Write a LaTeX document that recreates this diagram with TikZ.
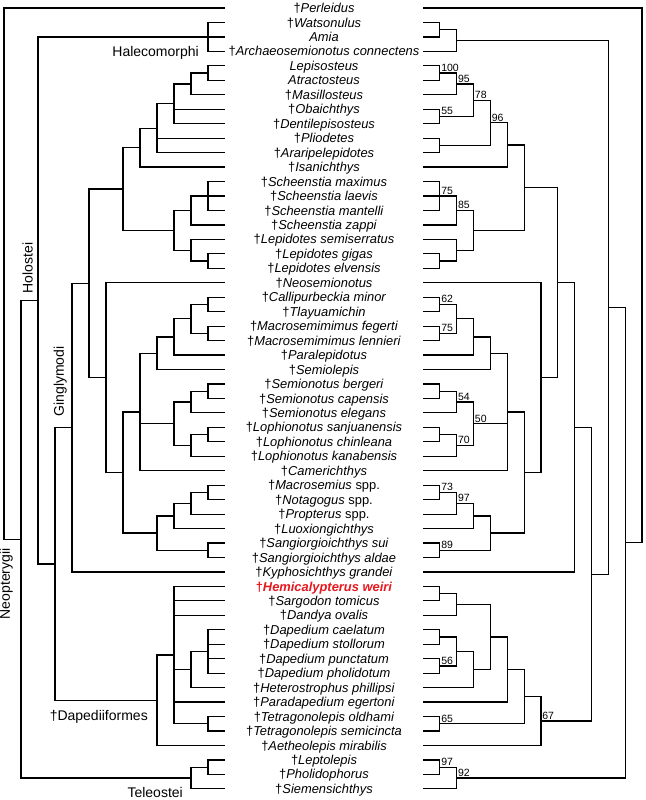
\documentclass[tikz,border=0pt]{standalone}
\usepackage{fontspec}
\setmainfont{Liberation Sans}
\usetikzlibrary{positioning}
\definecolor{hemired}{RGB}{232,24,32}
\newcommand{\ext}[1]{\textup{†}\textit{#1}}
\tikzset{
branch/.style={
	draw=black,
	line width=1.2pt
},
taxon/.style={
	font=\fontsize{12.9}{14}\selectfont,
	inner sep=0pt,
	anchor=base,
	yshift=-4.6pt
},
clade/.style={
	font=\fontsize{14}{16}\selectfont,
	inner sep=0pt
},
support/.style={
	font=\fontsize{10.5}{12}\selectfont,
	inner sep=1.2pt,
	anchor=south west
}
}

\begin{document}
\begin{tikzpicture}[x=1pt, y=-14.46pt]
\useasboundingbox (0,0.4467) rectangle (646,55.772);
% ===== Taxa (centre column) and branch ends on both sides =====
\foreach \tx [count=\i] in {
  {\ext{Perleidus}}, {\ext{Watsonulus}}, {\textit{Amia}},
  {\ext{Archaeosemionotus connectens}}, {\textit{Lepisosteus}},
  {\textit{Atractosteus}}, {\ext{Masillosteus}}, {\ext{Obaichthys}},
  {\ext{Dentilepisosteus}}, {\ext{Pliodetes}}, {\ext{Araripelepidotes}},
  {\ext{Isanichthys}}, {\ext{Scheenstia maximus}}, {\ext{Scheenstia laevis}},
  {\ext{Scheenstia mantelli}}, {\ext{Scheenstia zappi}},
  {\ext{Lepidotes semiserratus}}, {\ext{Lepidotes gigas}},
  {\ext{Lepidotes elvensis}}, {\ext{Neosemionotus}},
  {\ext{Callipurbeckia minor}}, {\ext{Tlayuamichin}},
  {\ext{Macrosemimimus fegerti}}, {\ext{Macrosemimimus lennieri}},
  {\ext{Paralepidotus}}, {\ext{Semiolepis}}, {\ext{Semionotus bergeri}},
  {\ext{Semionotus capensis}}, {\ext{Semionotus elegans}},
  {\ext{Lophionotus sanjuanensis}}, {\ext{Lophionotus chinleana}},
  {\ext{Lophionotus kanabensis}}, {\ext{Camerichthys}},
  {\ext{Macrosemius} spp.}, {\ext{Notagogus} spp.}, {\ext{Propterus} spp.},
  {\ext{Luoxiongichthys}}, {\ext{Sangiorgioichthys sui}},
  {\ext{Sangiorgioichthys aldae}}, {\ext{Kyphosichthys grandei}},
  {\textcolor{hemired}{\bfseries\ext{Hemicalypterus weiri}}},
  {\ext{Sargodon tomicus}}, {\ext{Dandya ovalis}}, {\ext{Dapedium caelatum}},
  {\ext{Dapedium stollorum}}, {\ext{Dapedium punctatum}},
  {\ext{Dapedium pholidotum}}, {\ext{Heterostrophus phillipsi}},
  {\ext{Paradapedium egertoni}}, {\ext{Tetragonolepis oldhami}},
  {\ext{Tetragonolepis semicincta}}, {\ext{Aetheolepis mirabilis}},
  {\ext{Leptolepis}}, {\ext{Pholidophorus}}, {\ext{Siemensichthys}}
} {
  \node[taxon] (tx\i) at (324,\i) {\tx};
  \coordinate (L\i) at (225,\i);
  \coordinate (R\i) at (423,\i);
}

% ===== Left tree: node / height / row =====
\foreach \n/\h/\r in {
  lHA/1/3, lG1/1/5.5, lG2/2/6.25, lG3/3/7.625, lG4/4/9.3125,
  lG5/5/10.65625, lS1/1/14, lS2/2/15, lP1/1/18.5, lP2/2/17.75,
  lS3/3/16.375, lA1/6/13.515625, lC1/1/21.5, lM1/1/23.5, lC2/2/22.5,
  lC3/3/23.75, lC4/4/24.875, lSB1/1/27.5, lSB2/2/28.25, lLO1/1/30.5,
  lLO2/2/31.25, lSL/3/29.75, lD1/5/28.9375, lMA1/1/34.5, lMA2/2/35.25,
  lMA3/3/36.125, lSG/1/38.5, lMA4/4/37.3125, lD2/6/33.125,
  lD3/7/26.5625, lA2/8/20.0390625, lGI/9/30.01953, lDM1/1/45.5,
  lDM2/2/46.75, lTT/1/50.5, lDA1/3/45.75, lDA/4/48.875,
  lGD/10/39.447266, lHO/11/21.223633, lTL1/1/53.5, lTE/2/54.25,
  lNE/12/37.736816, lRT/13/19.368408}
  \coordinate (\n) at ({225-17*\h},\r);

\foreach \a/\b in {
  lRT/L1, lRT/lNE, lNE/lHO, lNE/lTE, lHO/lHA, lHO/lGD,
  lHA/L2, lHA/L3, lHA/L4, lGD/lGI, lGD/lDA, lGI/lA2, lGI/L40,
  lA2/lA1, lA2/lD3, lA1/lG5, lA1/lS3, lG5/lG4, lG5/L12,
  lG4/lG3, lG4/L10, lG4/L11, lG3/lG2, lG3/L8, lG3/L9, lG2/lG1, lG2/L7,
  lG1/L5, lG1/L6, lS3/lS2, lS3/lP2, lS2/lS1, lS2/L16,
  lS1/L13, lS1/L14, lS1/L15, lP2/L17, lP2/lP1, lP1/L18, lP1/L19,
  lD3/L20, lD3/lD2, lD2/lD1, lD2/lMA4, lD1/lC4, lD1/lSL, lD1/L33,
  lC4/lC3, lC4/L26, lC3/lC2, lC3/L25, lC2/lC1, lC2/lM1,
  lC1/L21, lC1/L22, lM1/L23, lM1/L24, lSL/lSB2, lSL/lLO2,
  lSB2/lSB1, lSB2/L29, lSB1/L27, lSB1/L28, lLO2/lLO1, lLO2/L32,
  lLO1/L30, lLO1/L31, lMA4/lMA3, lMA4/lSG, lMA3/lMA2, lMA3/L37,
  lMA2/lMA1, lMA2/L36, lMA1/L34, lMA1/L35, lSG/L38, lSG/L39,
  lDA/lDA1, lDA/L52, lDA1/L41, lDA1/L42, lDA1/L43, lDA1/lDM2,
  lDA1/L49, lDA1/lTT, lDM2/lDM1, lDM2/L48, lDM1/L44, lDM1/L45,
  lDM1/L46, lDM1/L47, lTT/L50, lTT/L51, lTE/lTL1, lTE/L55,
  lTL1/L53, lTL1/L54}
  \draw[branch] (\a) |- (\b);

% clade names on the left tree
\node[clade, below left=9.5pt and 9pt of lHA] (halecomorphi) {Halecomorphi};
\node[clade, below left=10pt and 9pt of lDA] (dapediiformes) {\textup{†}Dapediiformes};
\node[clade, below left=9pt and 8pt of lTE] (teleostei) {Teleostei};
\node[clade, rotate=90, anchor=south west] (holostei)
      at ([shift={(-5pt,7pt)}]lHO) {Holostei};
\node[clade, rotate=90, anchor=south west] (ginglymodi)
      at ([shift={(-5pt,11pt)}]lGI) {Ginglymodi};
\node[clade, rotate=90, anchor=south east] (neopterygii)
      at ([shift={(-8pt,-9pt)}]lNE) {Neopterygii};

% ===== Right tree: node / height / row =====
\foreach \n/\h/\r in {
  rH1/1/2.5, rH2/2/3.25, rG1/1/5.5, rG2/2/6.25, rO/1/8.5, rG3/3/7.375,
  rP/1/10.5, rG4/4/8.9375, rG5/5/10.46875, rS1/1/14, rS2/2/15,
  rL1/1/18.5, rL2/2/17.75, rS3/3/16.375, rA1/6/13.421875,
  rC1/1/21.5, rM1/1/23.5, rC2/2/22.5, rC3/3/23.75, rC4/4/24.875,
  rSB1/1/27.5, rSB2/2/28.25, rLO1/1/30.5, rLO2/2/31.25, rSL/3/29.75,
  rD1/5/28.9375, rMA1/1/34.5, rMA2/2/35.25, rMA3/3/36.125, rSG/1/38.5,
  rMA4/4/37.3125, rD2/6/33.125, rD3/7/26.5625, rA2/8/19.9921875,
  rGI/9/29.996094, rHS/1/41.5, rHS2/2/42.25, rDC/1/44.5, rDP/1/46.5,
  rDM/2/45.5, rDH/3/46.75, rDA4/4/44.5, rDA5/5/46.75, rTT/1/50.5,
  rDA6/6/48.625, rDA/7/50.3125, rGD/10/40.154297, rHO/11/21.702148,
  rTL1/1/53.5, rTE/2/54.25, rNE/12/37.976074, rRT/13/19.488037}
  \coordinate (\n) at ({423+16.85*\h},\r);

\foreach \a/\b in {
  rRT/R1, rRT/rNE, rNE/rHO, rNE/rTE, rHO/rH2, rHO/rGD,
  rH2/rH1, rH2/R4, rH1/R2, rH1/R3, rGD/rGI, rGD/rDA, rGI/rA2, rGI/R40,
  rA2/rA1, rA2/rD3, rA1/rG5, rA1/rS3, rG5/rG4, rG5/R12,
  rG4/rG3, rG4/rP, rG3/rG2, rG3/rO, rG2/rG1, rG2/R7, rG1/R5, rG1/R6,
  rO/R8, rO/R9, rP/R10, rP/R11, rS3/rS2, rS3/rL2, rS2/rS1, rS2/R16,
  rS1/R13, rS1/R14, rS1/R15, rL2/R17, rL2/rL1, rL1/R18, rL1/R19,
  rD3/R20, rD3/rD2, rD2/rD1, rD2/rMA4, rD1/rC4, rD1/rSL, rD1/R33,
  rC4/rC3, rC4/R26, rC3/rC2, rC3/R25, rC2/rC1, rC2/rM1,
  rC1/R21, rC1/R22, rM1/R23, rM1/R24, rSL/rSB2, rSL/rLO2,
  rSB2/rSB1, rSB2/R29, rSB1/R27, rSB1/R28, rLO2/rLO1, rLO2/R32,
  rLO1/R30, rLO1/R31, rMA4/rMA3, rMA4/rSG, rMA3/rMA2, rMA3/R37,
  rMA2/rMA1, rMA2/R36, rMA1/R34, rMA1/R35, rSG/R38, rSG/R39,
  rDA/rDA6, rDA/R52, rDA6/rDA5, rDA6/rTT, rTT/R50, rTT/R51,
  rDA5/rDA4, rDA5/R49, rDA4/rHS2, rDA4/rDH, rHS2/rHS, rHS2/R43,
  rHS/R41, rHS/R42, rDH/rDM, rDH/R48, rDM/rDC, rDM/rDP,
  rDC/R44, rDC/R45, rDP/R46, rDP/R47, rTE/rTL1, rTE/R55,
  rTL1/R53, rTL1/R54}
  \draw[branch] (\a) |- (\b);

% support values above the stems
\foreach \n/\v in {
  rG1/100, rG2/95, rG3/78, rG4/96, rO/55, rS1/75, rS2/85, rC1/62,
  rM1/75, rSB2/54, rSL/50, rLO2/70, rMA1/73, rMA2/97, rSG/89,
  rDP/56, rTT/65, rDA/67, rTL1/97, rTE/92}
  \node[support] (s\n) at (\n) {\v};

\end{tikzpicture}
\end{document}
